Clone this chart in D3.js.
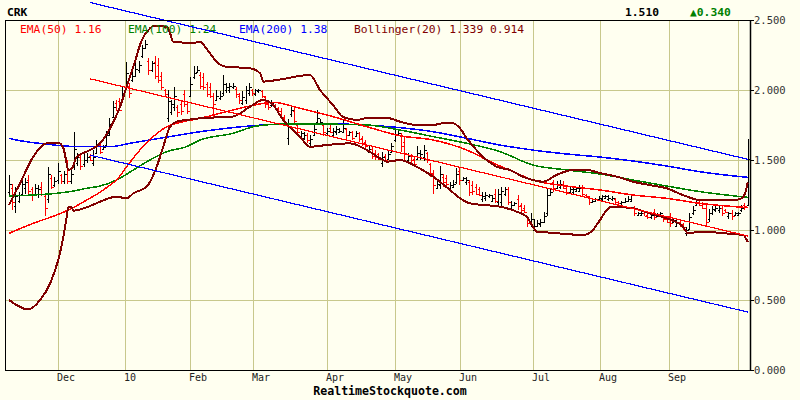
<!DOCTYPE html>
<html><head><meta charset="utf-8">
<script src="https://cdn.jsdelivr.net/npm/d3@7"></script>
<style>
html,body{margin:0;padding:0;background:#fffff0;}
svg{display:block;}
text{font-family:"DejaVu Sans Mono","Liberation Mono",monospace;}
</style>
</head><body>
<svg id="chart" width="800" height="400"></svg>
<script>
// ---------------- DATA ----------------
const symbol = "CRK";
const lastPrice = "1.510";
const changeText = "\u25B20.340";
const legendLabels = ["EMA(50) 1.16", "EMA(100) 1.24", "EMA(200) 1.38", "Bollinger(20) 1.339 0.914"];
const monthIdx = [15, 35.8, 56, 75.2, 98.3, 119.1, 139.2, 161.7, 182.4, 203.7, 224.9];
const monthLabels = ["Dec", "10", "Feb", "Mar", "Apr", "May", "Jun", "Jul", "Aug", "Sep", ""];
const yTicks = [0, 0.5, 1.0, 1.5, 2.0, 2.5];

const open = [
1.27,1.30,1.17,1.21,1.26,1.30,1.36,1.29,1.26,1.26,
1.31,1.24,1.22,1.37,1.32,1.36,1.39,1.35,1.45,1.35,
1.45,1.48,1.52,1.47,1.50,1.53,1.48,1.55,1.61,1.58,
1.61,1.69,1.81,1.91,1.92,1.93,2.02,2.03,2.07,2.10,
2.14,2.24,2.30,2.21,2.14,2.20,2.18,2.10,2.00,1.80,
1.84,1.88,1.88,1.90,1.97,1.90,1.96,2.09,2.13,2.11,
2.09,2.04,2.02,1.96,1.93,1.94,1.98,2.00,2.00,2.02,
2.01,1.96,1.91,1.93,1.98,2.00,1.97,1.99,1.99,1.95,
1.91,1.89,1.89,1.87,1.85,1.80,1.66,1.83,1.85,1.75,
1.67,1.66,1.68,1.62,1.68,1.77,1.76,1.75,1.69,1.73,
1.68,1.70,1.70,1.70,1.72,1.68,1.70,1.67,1.69,1.66,
1.63,1.56,1.58,1.55,1.54,1.48,1.53,1.51,1.56,1.64,
1.68,1.67,1.63,1.50,1.53,1.51,1.51,1.52,1.52,1.55,
1.47,1.40,1.30,1.32,1.38,1.37,1.30,1.31,1.34,1.42,
1.36,1.34,1.34,1.32,1.31,1.29,1.22,1.23,1.24,1.21,
1.26,1.20,1.20,1.26,1.29,1.16,1.18,1.22,1.18,1.16,
1.09,1.04,1.00,1.03,1.04,1.06,1.12,1.25,1.34,1.30,
1.31,1.33,1.30,1.27,1.27,1.28,1.28,1.30,1.25,1.23,
1.20,1.21,1.22,1.22,1.23,1.22,1.22,1.22,1.20,1.19,
1.20,1.21,1.21,1.16,1.11,1.11,1.12,1.11,1.09,1.13,
1.10,1.11,1.10,1.08,1.10,1.06,1.03,1.06,1.04,0.98,
1.01,1.12,1.18,1.20,1.19,1.16,1.08,1.12,1.14,1.14,
1.16,1.14,1.10,1.12,1.11,1.11,1.14,1.18,1.18];
const high = [
1.39,1.33,1.31,1.27,1.38,1.37,1.39,1.31,1.33,1.32,
1.34,1.25,1.45,1.39,1.38,1.48,1.40,1.42,1.50,1.44,
1.70,1.55,1.54,1.54,1.55,1.54,1.57,1.64,1.63,1.61,
1.71,1.80,1.92,1.93,1.94,2.02,2.20,2.05,2.13,2.19,
2.21,2.32,2.36,2.23,2.21,2.24,2.23,2.13,2.01,2.00,
1.93,2.02,1.89,1.93,2.00,1.92,2.09,2.17,2.17,2.13,
2.12,2.06,2.05,1.98,2.00,1.99,2.11,2.05,2.05,2.05,
2.02,1.98,1.99,2.03,2.05,2.01,2.01,2.01,2.00,1.96,
1.93,1.93,1.90,1.88,1.87,1.82,1.79,1.89,1.87,1.76,
1.71,1.70,1.69,1.68,1.76,1.86,1.79,1.76,1.73,1.75,
1.73,1.74,1.73,1.79,1.73,1.71,1.71,1.71,1.70,1.67,
1.64,1.61,1.60,1.57,1.55,1.56,1.54,1.57,1.62,1.73,
1.71,1.69,1.67,1.55,1.54,1.52,1.60,1.57,1.61,1.56,
1.48,1.43,1.36,1.46,1.40,1.39,1.34,1.36,1.44,1.45,
1.38,1.38,1.36,1.35,1.33,1.31,1.27,1.27,1.26,1.25,
1.29,1.29,1.31,1.31,1.31,1.21,1.20,1.25,1.19,1.18,
1.10,1.12,1.08,1.07,1.08,1.13,1.29,1.29,1.36,1.35,
1.36,1.35,1.31,1.31,1.31,1.31,1.32,1.32,1.26,1.24,
1.23,1.23,1.24,1.25,1.25,1.25,1.24,1.23,1.21,1.21,
1.23,1.24,1.26,1.17,1.13,1.13,1.12,1.12,1.13,1.15,
1.12,1.13,1.11,1.10,1.12,1.08,1.07,1.07,1.05,1.02,
1.12,1.17,1.21,1.21,1.20,1.19,1.15,1.17,1.18,1.17,
1.18,1.15,1.13,1.14,1.13,1.13,1.18,1.19,1.65];
const low = [
1.24,1.14,1.12,1.19,1.24,1.26,1.24,1.21,1.24,1.23,
1.24,1.10,1.19,1.29,1.31,1.33,1.33,1.33,1.33,1.33,
1.43,1.46,1.43,1.45,1.48,1.49,1.46,1.54,1.54,1.57,
1.60,1.67,1.80,1.85,1.85,1.92,2.00,1.94,2.06,2.09,
2.12,2.23,2.29,2.11,2.13,2.08,2.05,2.00,1.96,1.77,
1.82,1.85,1.81,1.82,1.88,1.83,1.95,2.08,2.12,2.01,
2.00,1.95,1.94,1.81,1.92,1.93,1.96,1.98,1.98,2.01,
1.94,1.90,1.89,1.90,1.96,1.96,1.96,1.98,1.94,1.87,
1.86,1.88,1.86,1.83,1.80,1.74,1.61,1.81,1.76,1.68,
1.66,1.64,1.62,1.60,1.67,1.76,1.75,1.67,1.68,1.69,
1.67,1.68,1.69,1.69,1.65,1.67,1.64,1.67,1.63,1.60,
1.58,1.55,1.51,1.50,1.50,1.45,1.49,1.50,1.55,1.63,
1.67,1.56,1.50,1.48,1.48,1.45,1.50,1.50,1.49,1.48,
1.38,1.26,1.29,1.29,1.31,1.31,1.29,1.30,1.33,1.32,
1.35,1.32,1.24,1.25,1.25,1.24,1.20,1.21,1.23,1.20,
1.19,1.18,1.17,1.24,1.18,1.14,1.17,1.14,1.12,1.12,
1.02,1.02,0.99,1.02,1.02,1.05,1.10,1.24,1.27,1.29,
1.29,1.29,1.25,1.26,1.26,1.27,1.27,1.24,1.23,1.18,
1.19,1.20,1.21,1.21,1.23,1.21,1.21,1.18,1.18,1.18,
1.19,1.20,1.20,1.10,1.11,1.10,1.10,1.08,1.08,1.07,
1.10,1.10,1.06,1.05,1.02,1.05,1.02,1.02,1.00,0.96,
1.00,1.11,1.17,1.17,1.15,1.02,1.06,1.11,1.13,1.12,
1.10,1.12,1.08,1.07,1.10,1.10,1.13,1.14,1.17];
const close = [
1.33,1.20,1.24,1.25,1.33,1.34,1.28,1.25,1.30,1.29,
1.26,1.16,1.40,1.31,1.35,1.42,1.35,1.40,1.35,1.40,
1.58,1.52,1.46,1.50,1.52,1.50,1.52,1.60,1.56,1.59,
1.68,1.76,1.88,1.86,1.86,1.98,2.12,1.98,2.10,2.15,
2.18,2.30,2.33,2.14,2.19,2.10,2.07,2.02,1.97,1.92,
1.90,1.96,1.84,1.85,1.90,1.85,2.04,2.12,2.14,2.03,
2.02,1.97,1.96,1.90,1.96,1.96,2.04,2.02,2.03,2.03,
1.97,1.93,1.95,2.00,2.02,1.98,2.00,2.00,1.96,1.90,
1.88,1.91,1.87,1.85,1.81,1.76,1.74,1.86,1.78,1.70,
1.69,1.68,1.64,1.65,1.72,1.80,1.77,1.70,1.71,1.70,
1.71,1.72,1.71,1.73,1.68,1.70,1.66,1.69,1.65,1.62,
1.60,1.58,1.53,1.52,1.51,1.52,1.50,1.54,1.60,1.68,
1.69,1.60,1.55,1.53,1.50,1.47,1.55,1.54,1.57,1.50,
1.41,1.32,1.33,1.40,1.34,1.33,1.32,1.33,1.40,1.36,
1.37,1.36,1.27,1.28,1.26,1.25,1.24,1.25,1.25,1.23,
1.21,1.26,1.28,1.29,1.20,1.18,1.19,1.17,1.14,1.13,
1.05,1.08,1.03,1.05,1.06,1.10,1.25,1.27,1.30,1.32,
1.33,1.30,1.27,1.29,1.29,1.30,1.30,1.26,1.24,1.20,
1.21,1.22,1.23,1.24,1.24,1.23,1.23,1.20,1.19,1.20,
1.21,1.22,1.25,1.12,1.12,1.12,1.10,1.09,1.11,1.09,
1.11,1.12,1.08,1.06,1.05,1.07,1.05,1.04,1.02,1.00,
1.09,1.14,1.20,1.18,1.16,1.06,1.12,1.15,1.16,1.16,
1.12,1.13,1.12,1.10,1.12,1.12,1.16,1.17,1.51];

// indicator lines: [bar index, value]
const ema50 = [[0,0.976],[7.5,1.048],[14.7,1.107],[18.8,1.148],[24,1.214],[28.1,1.27],[31.2,1.321],[33.2,1.357],[36.3,1.452],[40.4,1.571],[44.5,1.667],[48.7,1.738],[53.8,1.774],[59,1.798],[69.1,1.857],[74.4,1.886],[81.5,1.912],[89.8,1.869],[100,1.81],[110.4,1.738],[120.7,1.673],[130.9,1.643],[141.3,1.571],[149.4,1.479],[156.7,1.405],[161.7,1.357],[172.1,1.314],[182.4,1.286],[192.6,1.25],[203,1.226],[213.3,1.19],[228,1.16]];
const ema100 = [[0,1.243],[7.5,1.25],[14.7,1.262],[18.8,1.274],[24,1.298],[28.1,1.314],[33.2,1.357],[38.4,1.429],[43.5,1.5],[48.7,1.56],[54.8,1.595],[59,1.643],[69.1,1.69],[76.4,1.743],[84.6,1.757],[92.9,1.757],[110.4,1.75],[120.7,1.714],[130.9,1.667],[141.3,1.619],[151.5,1.56],[161.7,1.464],[172.1,1.429],[182.4,1.4],[192.6,1.357],[203,1.314],[213.3,1.274],[228,1.233]];
const ema200 = [[0,1.655],[3.4,1.638],[7.5,1.624],[11.6,1.614],[15.7,1.602],[22.9,1.595],[31.2,1.595],[37.3,1.619],[46.6,1.655],[59,1.702],[74.4,1.743],[84.7,1.757],[100,1.757],[120.7,1.731],[130.9,1.702],[141.3,1.655],[151.5,1.607],[161.7,1.571],[172.1,1.543],[182.4,1.521],[203,1.457],[213.3,1.416],[228,1.376]];
const bbUpper = [[0,1.179],[3.4,1.333],[7.5,1.524],[11.6,1.619],[15.2,1.624],[16.8,1.583],[17.8,1.476],[18.3,1.429],[19.4,1.44],[20.9,1.524],[24,1.56],[28.1,1.619],[31.2,1.726],[34.3,1.881],[36.3,2.024],[38.4,2.167],[41,2.357],[43.5,2.44],[44.5,2.457],[48.7,2.452],[49.7,2.405],[50.7,2.345],[54.8,2.338],[57.4,2.338],[59,2.345],[60.5,2.31],[62,2.262],[64.1,2.202],[66.7,2.167],[74.4,2.155],[77.5,2.119],[78.5,2.06],[82.6,2.071],[92.9,2.107],[96,2.0],[100,1.893],[103.1,1.807],[107.4,1.786],[110.5,1.8],[116.7,1.8],[120.7,1.774],[125.8,1.75],[130.9,1.75],[134,1.762],[137,1.762],[139.2,1.726],[141.3,1.655],[144.3,1.571],[147.4,1.5],[150.5,1.452],[154.6,1.429],[158.6,1.381],[161.7,1.357],[164.8,1.345],[169,1.393],[174.1,1.429],[178.3,1.429],[182.4,1.407],[187.6,1.381],[192.6,1.345],[197.8,1.321],[203,1.298],[208,1.25],[213.3,1.214],[223.5,1.214],[226.1,1.226],[227.2,1.262],[228,1.339]];
const bbLower = [[0,0.5],[6,0.433],[9.6,0.5],[12.7,0.619],[15.2,0.786],[16.8,0.952],[17.8,1.095],[18.3,1.162],[19.4,1.162],[19.8,1.138],[24,1.162],[28.1,1.202],[33.2,1.238],[36.3,1.226],[38.4,1.262],[42.5,1.31],[45.6,1.452],[47.6,1.595],[49.7,1.738],[51.8,1.774],[54.8,1.786],[59,1.798],[69.1,1.81],[74.4,1.881],[78.4,1.929],[81.5,1.893],[84.6,1.786],[89.8,1.667],[92.9,1.595],[98.1,1.607],[105.2,1.619],[110.5,1.571],[114.5,1.512],[116.7,1.488],[120.7,1.5],[125.8,1.452],[130.9,1.381],[136.1,1.286],[139.2,1.226],[142.3,1.19],[146.3,1.179],[151.5,1.167],[156.7,1.131],[159.8,1.095],[161.7,1.024],[162.9,0.988],[166.9,0.981],[172.1,0.971],[177.2,0.964],[180.2,1.0],[182.4,1.071],[184.5,1.143],[186,1.167],[192.6,1.155],[197.8,1.119],[203,1.083],[208,1.024],[209.6,0.976],[213.3,0.988],[223.5,0.971],[226.6,0.964],[228,0.914]];
// regression channel (start/end bar index and values)
const channelIdx = [25, 228];
const channelUpper = [2.625, 1.505];
const channelMid = [2.08, 0.957];
const channelLower = [1.535, 0.414];

// ---------------- DRAWING ----------------
const svg = d3.select("#chart");
const W = 800, H = 400;
const pL = 5.5, pR = 750.5, pT = 20.5, pB = 370.5;
svg.append("rect").attr("width", W).attr("height", H).attr("fill", "#fffff0");

const x = d3.scaleLinear().domain([0, 228]).range([9, 747.7]);
const y = d3.scaleLinear().domain([0, 2.5]).range([370, 20]);
const py = v => Math.round(y(v)) + 0.5;

const gridColor = "#c8c88c";
const g = svg.append("g").attr("shape-rendering", "crispEdges");
g.selectAll("line.hg").data(yTicks.filter(t => t > 0 && t < 2.5)).join("line")
  .attr("x1", pL).attr("x2", pR).attr("y1", d => py(d)).attr("y2", d => py(d))
  .attr("stroke", gridColor).attr("stroke-width", 1);
g.selectAll("line.vg").data(monthIdx).join("line")
  .attr("x1", d => Math.round(x(d)) + 0.5).attr("x2", d => Math.round(x(d)) + 0.5)
  .attr("y1", pT).attr("y2", pB)
  .attr("stroke", gridColor).attr("stroke-width", 1);

svg.selectAll("text.mon").data(monthIdx).join("text")
  .attr("x", d => Math.round(x(d)) - 1).attr("y", 381)
  .attr("font-size", 10).attr("fill", "#222")
  .text((d, i) => monthLabels[i]);

svg.selectAll("text.yl").data(yTicks).join("text")
  .attr("x", 754).attr("y", d => y(d) + 4)
  .attr("font-size", 10.5).attr("fill", "#333")
  .text(d => d3.format(".3f")(d));
svg.selectAll("line.yt").data(yTicks).join("line")
  .attr("x1", pR).attr("x2", pR + 3).attr("y1", d => py(d)).attr("y2", d => py(d))
  .attr("stroke", "#000").attr("shape-rendering", "crispEdges");

const bars = svg.append("g").attr("shape-rendering", "crispEdges");
const idx = d3.range(close.length);
const barColor = i => close[i] < open[i] ? "#ff0000" : "#000000";
bars.selectAll("path").data(idx).join("path")
  .attr("d", i => {
    const cx = Math.round(x(i)) + 0.5;
    return `M${cx},${y(high[i])}V${y(low[i])}` +
           `M${cx - 2},${py(open[i])}H${cx}` +
           `M${cx},${py(close[i])}H${cx + 2}`;
  })
  .attr("fill", "none").attr("stroke", barColor).attr("stroke-width", 1);

const line = d3.line().x(d => x(d[0])).y(d => y(d[1])).curve(d3.curveMonotoneX);
const drawLine = (data, color, w) => svg.append("path").datum(data)
  .attr("d", line).attr("fill", "none").attr("stroke", color).attr("stroke-width", w)
  .attr("stroke-linejoin", "round").attr("shape-rendering", "crispEdges");
drawLine(ema200, "#0000ff", 1.5);
drawLine(ema100, "#008000", 1.5);
drawLine(ema50, "#ff0000", 1.5);
drawLine(bbUpper, "#800000", 2);
drawLine(bbLower, "#800000", 2);

const chan = (vals, color) => svg.append("line")
  .attr("x1", x(channelIdx[0])).attr("y1", y(vals[0]))
  .attr("x2", x(channelIdx[1])).attr("y2", y(vals[1]))
  .attr("stroke", color).attr("stroke-width", 1.2).attr("shape-rendering", "crispEdges");

const legendX = [20, 128, 239, 354];
const legendColors = ["#ff0000", "#008000", "#0000ff", "#800000"];
svg.selectAll("text.leg").data(legendLabels).join("text")
  .attr("x", (d, i) => legendX[i]).attr("y", 33)
  .attr("font-size", 11.3).attr("fill", (d, i) => legendColors[i])
  .text(d => d);

chan(channelUpper, "#0000ff");
chan(channelLower, "#0000ff");
chan(channelMid, "#ff0000");

svg.append("rect").attr("x", pL).attr("y", pT).attr("width", pR - pL).attr("height", pB - pT)
  .attr("fill", "none").attr("stroke", "#000").attr("stroke-width", 1).attr("shape-rendering", "crispEdges");
svg.append("line").attr("x1", pR).attr("x2", pR).attr("y1", pT).attr("y2", pB)
  .attr("stroke", "#000").attr("stroke-width", 1.5);

svg.append("text").attr("x", 7).attr("y", 16).attr("font-size", 11.3).attr("font-weight", "bold")
  .attr("fill", "#000").text(symbol);
svg.append("text").attr("x", 625).attr("y", 16).attr("font-size", 11.3).attr("font-weight", "bold")
  .attr("fill", "#000").text(lastPrice);
svg.append("text").attr("x", 690).attr("y", 16).attr("font-size", 11.3).attr("font-weight", "bold")
  .attr("fill", "#008000").text(changeText);
svg.append("text").attr("x", 390).attr("y", 395).attr("text-anchor", "middle")
  .attr("font-size", 11.6).attr("font-weight", "bold").attr("fill", "#000")
  .text("RealtimeStockquote.com");
</script>
</body></html>
